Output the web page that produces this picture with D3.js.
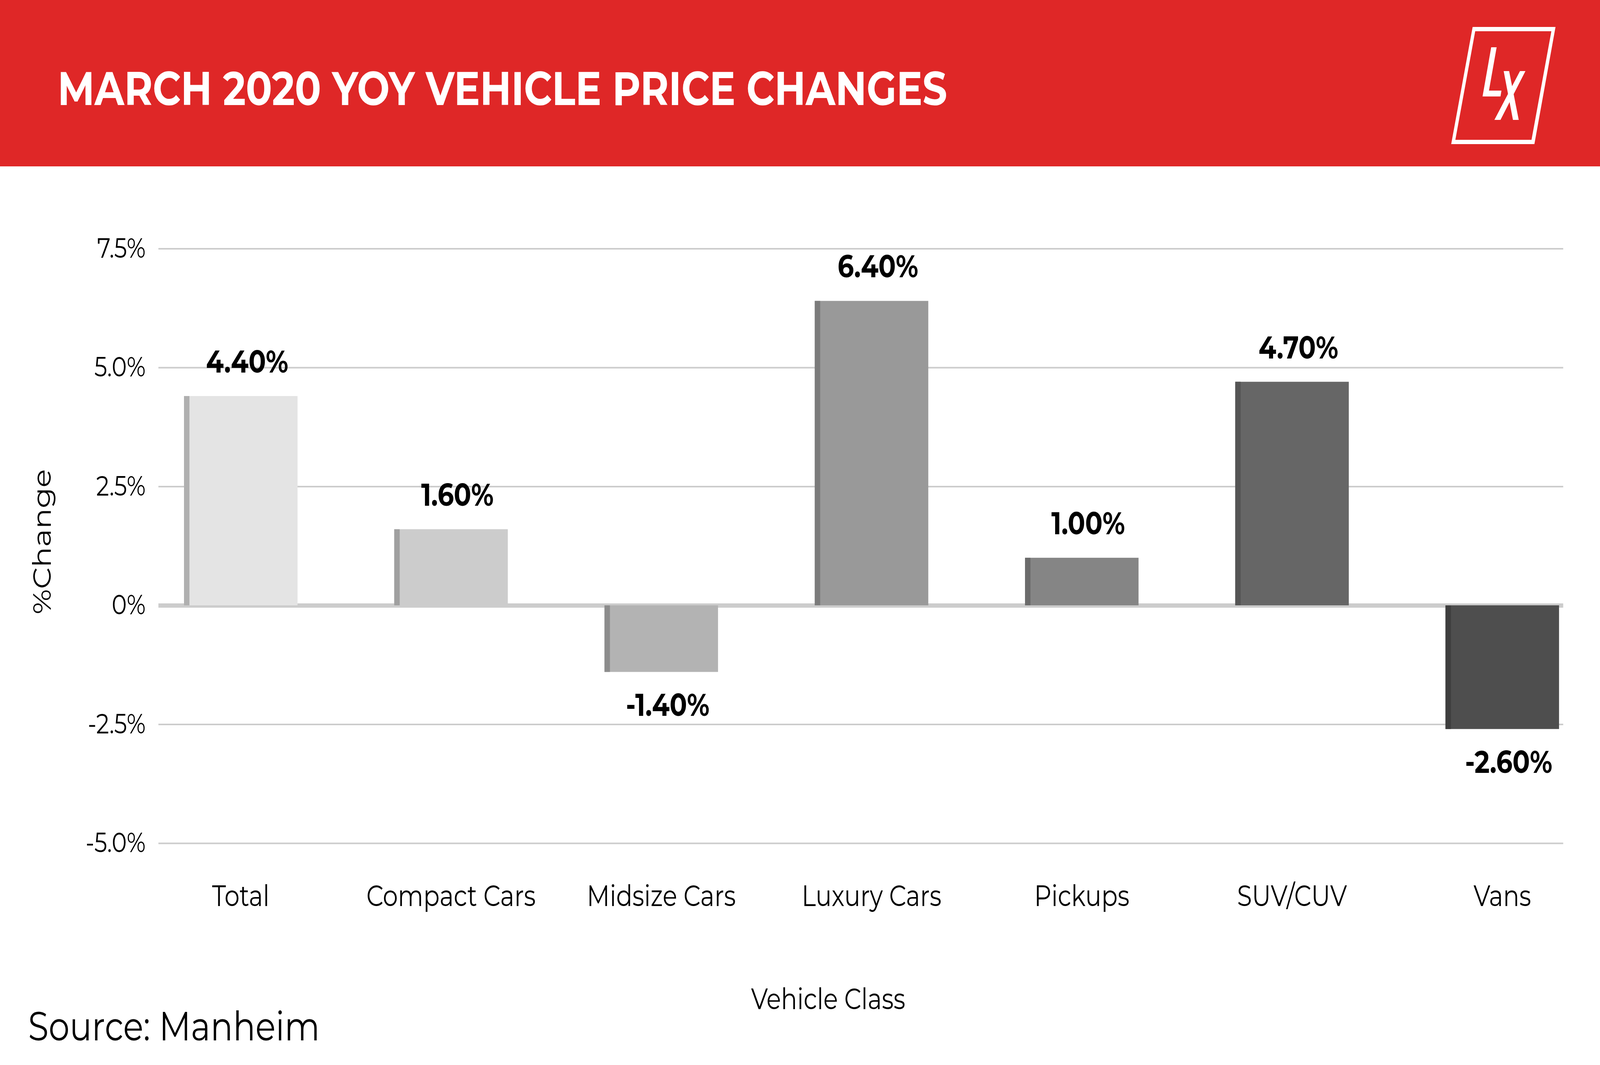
<!DOCTYPE html>
<html>
<head>
<meta charset="utf-8">
<script src="https://cdn.jsdelivr.net/npm/d3@7/dist/d3.min.js"></script>
<style>
  html, body { margin: 0; padding: 0; background: #fff; width: 100%; height: 100%; overflow: hidden; }
  svg { display: block; width: 100vw; height: 100vh; }
  text { font-family: Montserrat, "DejaVu Sans", sans-serif; }
</style>
</head>
<body>
<!-- drawn in a 5000x2727 frame, stretched to whatever the window is -->
<svg id="chart" viewBox="0 0 5000 2727" preserveAspectRatio="none"></svg>
<script>
/* March 2020 YoY vehicle price changes — D3 bar chart */

// ── Data ──────────────────────────────────────────────────────────────────────
const categories = ['Total', 'Compact Cars', 'Midsize Cars', 'Luxury Cars', 'Pickups', 'SUV/CUV', 'Vans'];
const values = [4.4, 1.6, -1.4, 6.4, 1.0, 4.7, -2.6];
const tickValues = [-5, -2.5, 0, 2.5, 5, 7.5];
const tickLabels = ['-5.0%', '-2.5%', '0%', '2.5%', '5.0%', '7.5%'];

// ── Style ─────────────────────────────────────────────────────────────────────
const fills  = ['#e4e4e4', '#cccccc', '#b3b3b3', '#999999', '#858585', '#666666', '#4e4e4e'];
const strips = ['#b0b0b0', '#a0a0a0', '#8c8c8c', '#7b7b7b', '#6b6b6b', '#555555', '#3e3e3e'];
const RED = '#df2727';
const GRID = '#cccccc';

const svg = d3.select('#chart');

// ── Header band + logo ────────────────────────────────────────────────────────
svg.append('rect').attr('x', 0).attr('y', 0).attr('width', 5000).attr('height', 426).attr('fill', RED);

svg.append('text')
  .attr('x', 180).attr('y', 269)
  .attr('fill', '#fff')
  .attr('font-size', 121)
  .attr('font-weight', 700)
  .text('MARCH 2020 YOY VEHICLE PRICE CHANGES');

// "LX" badge: slanted frame with the two letters inside
const logo = svg.append('g');
const poly = pts => 'M' + pts.map(p => p.join(',')).join('L') + 'Z';
logo.append('path')
  .attr('fill-rule', 'evenodd')
  .attr('fill', '#fff')
  .attr('d', poly([[4602, 69], [4861, 69], [4795, 369], [4535, 369]]) +
             poly([[4610, 80], [4848, 80], [4786, 358], [4548, 358]]));
logo.append('path').attr('fill', '#fff')
  .attr('d', poly([[4660, 121], [4677, 121], [4653, 232], [4692, 232], [4689, 247], [4633, 247]]));
logo.append('path').attr('fill', '#fff')
  .attr('d', poly([[4699, 182], [4716, 182], [4746, 307], [4728, 307]]));
logo.append('path').attr('fill', '#fff')
  .attr('d', poly([[4750, 182], [4767, 182], [4689, 307], [4670, 307]]));

// ── Scales ────────────────────────────────────────────────────────────────────
const plotLeft = 495, plotRight = 4885;

const x = d3.scaleBand()
  .domain(categories)
  .range([575, 4872])
  .paddingInner(0.46)
  .paddingOuter(0);

const y = d3.scaleLinear()
  .domain([-5, 7.5])
  .range([2159, 636.5]);

// ── Gridlines + y tick labels ─────────────────────────────────────────────────
const yAxis = d3.axisLeft(y)
  .tickValues(tickValues)
  .tickSize(-(plotRight - plotLeft))
  .tickPadding(40)
  .tickFormat((d, i) => tickLabels[i]);

const gy = svg.append('g')
  .attr('transform', `translate(${plotLeft},0)`)
  .call(yAxis);
gy.select('.domain').remove();
gy.selectAll('.tick line')
  .attr('stroke', GRID)
  .attr('stroke-width', d => d === 0 ? 11 : 4);   // zero line is heavier
gy.selectAll('.tick text')
  .attr('fill', '#000')
  .attr('font-size', 71)
  .attr('font-family', 'Montserrat, "DejaVu Sans", sans-serif');

// ── Bars ──────────────────────────────────────────────────────────────────────
const bars = svg.append('g')
  .selectAll('g')
  .data(categories.map((c, i) => ({ c, v: values[i], i })))
  .join('g');

bars.append('rect')
  .attr('x', d => x(d.c))
  .attr('y', d => y(Math.max(0, d.v)))
  .attr('width', x.bandwidth())
  .attr('height', d => Math.abs(y(d.v) - y(0)))
  .attr('fill', d => fills[d.i]);

// darker strip on the left edge of each bar
bars.append('rect')
  .attr('x', d => x(d.c))
  .attr('y', d => y(Math.max(0, d.v)))
  .attr('width', 17)
  .attr('height', d => Math.abs(y(d.v) - y(0)))
  .attr('fill', d => strips[d.i]);

// value labels (plain hyphen for negatives, as in the source graphic)
bars.append('text')
  .attr('x', d => x(d.c) + x.bandwidth() / 2 + 20)
  .attr('y', d => d.v >= 0 ? y(d.v) - 60 : y(d.v) + 112)
  .attr('text-anchor', 'middle')
  .attr('font-size', 80)
  .attr('font-weight', 700)
  .attr('fill', '#000')
  .text(d => d.v.toFixed(2) + '%');

// ── Category labels ───────────────────────────────────────────────────────────
svg.append('g')
  .selectAll('text')
  .data(categories)
  .join('text')
  .attr('x', d => x(d) + x.bandwidth() / 2)
  .attr('y', 2320)
  .attr('text-anchor', 'middle')
  .attr('font-size', 75)
  .attr('fill', '#000')
  .text(d => d);

// ── Axis titles + source ──────────────────────────────────────────────────────
svg.append('text')
  .attr('x', 2588).attr('y', 2584)
  .attr('text-anchor', 'middle')
  .attr('font-size', 75)
  .text('Vehicle Class');

svg.append('text')
  .attr('transform', 'translate(159,1387) rotate(-90)')
  .attr('text-anchor', 'middle')
  .attr('font-size', 78)
  .text('%Change');

svg.append('text')
  .attr('x', 88).attr('y', 2664)
  .attr('font-size', 104)
  .text('Source: Manheim');
</script>
</body>
</html>
